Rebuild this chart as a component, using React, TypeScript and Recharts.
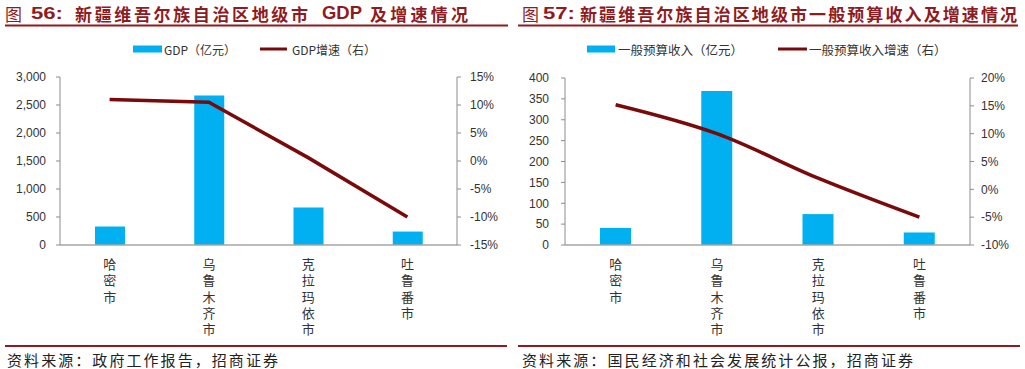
import React from 'react';
import { ComposedChart, Bar, Line, XAxis, YAxis } from 'recharts';

const cities = ['哈密市', '乌鲁木齐市', '克拉玛依市', '吐鲁番市'];
const gdpValues = [330, 2670, 670, 240];
const gdpGrowth = [11.0, 10.5, 0.6, -10.0];
const revenueValues = [41, 369, 74, 30];
const revenueGrowth = [15.2, 10.0, 2.0, -5.0];

const gdpTicks = [0, 500, 1000, 1500, 2000, 2500, 3000];
const gdpGrowthTicks = [-15, -10, -5, 0, 5, 10, 15];
const revenueTicks = [0, 50, 100, 150, 200, 250, 300, 350, 400];
const revenueGrowthTicks = [-10, -5, 0, 5, 10, 15, 20];

const gdpData = cities.map((c, i) => ({ city: c, value: gdpValues[i], growth: gdpGrowth[i] }));
const revData = cities.map((c, i) => ({ city: c, value: revenueValues[i], growth: revenueGrowth[i] }));

const BLUE = '#00B0F0';
const LINE = '#7A0A0A';
const TITLE = '#8E1B1F';
const NUM_FONT = '"Liberation Sans", Arial, "Noto Sans CJK SC", sans-serif';
const CJK_FONT = '"Noto Sans CJK SC", "Liberation Sans", sans-serif';

const fmtComma = (v: number) => v.toLocaleString('en-US');
const fmtPct = (v: number) => `${v}%`;

const VerticalTick = (props: any) => {
  const { x, y, payload } = props;
  return (
    <g>
      <text
        x={x}
        y={y + 12.5}
        textAnchor="start"
        fontSize={13}
        fill="#333"
        fontFamily={CJK_FONT}
        style={{ writingMode: 'vertical-rl', letterSpacing: '3.3px' }}
      >
        {String(payload.value)}
      </text>
    </g>
  );
};

type PanelProps = {
  left: number;
  data: any[];
  leftTicks: number[];
  rightTicks: number[];
  leftWidth: number;
  rightWidth: number;
  top: number;
  barSize: number;
  lineType: 'linear' | 'monotone';
  leftMargin: number;
  rightMargin: number;
};

const Panel = ({ left, data, leftTicks, rightTicks, leftWidth, rightWidth, top, barSize, lineType, leftMargin, rightMargin }: PanelProps) => (
  <div style={{ position: 'absolute', left, top: 0 }}>
    <ComposedChart width={510} height={345} data={data} margin={{ top, right: 0, bottom: 0, left: 0 }}>
      <XAxis
        dataKey="city"
        interval={0}
        tickLine={false}
        tickSize={0}
        tickMargin={0}
        height={100}
        axisLine={{ stroke: '#A6A6A6', strokeWidth: 1.5 }}
        tick={<VerticalTick />}
      />
      <YAxis
        yAxisId="left"
        orientation="left"
        width={leftWidth}
        domain={[leftTicks[0], leftTicks[leftTicks.length - 1]]}
        ticks={leftTicks}
        interval={0}
        tickFormatter={fmtComma}
        tickSize={4}
        tickMargin={leftMargin}
        axisLine={{ stroke: '#8C8C8C' }}
        tickLine={{ stroke: '#8C8C8C' }}
        tick={{ fontSize: 12, fill: '#333', fontFamily: NUM_FONT }}
      />
      <YAxis
        yAxisId="right"
        orientation="right"
        width={rightWidth}
        domain={[rightTicks[0], rightTicks[rightTicks.length - 1]]}
        ticks={rightTicks}
        interval={0}
        tickFormatter={fmtPct}
        tickSize={4}
        tickMargin={rightMargin}
        axisLine={{ stroke: '#8C8C8C' }}
        tickLine={{ stroke: '#8C8C8C' }}
        tick={{ fontSize: 12, fill: '#333', fontFamily: NUM_FONT, textAnchor: 'start' }}
      />
      <Bar yAxisId="left" dataKey="value" fill={BLUE} barSize={barSize} isAnimationActive={false} />
      <Line
        yAxisId="right"
        dataKey="growth"
        type={lineType}
        stroke={LINE}
        strokeWidth={3.5}
        dot={false}
        activeDot={false}
        isAnimationActive={false}
      />
    </ComposedChart>
  </div>
);

export default function App() {
  return (
    <div style={{ position: 'absolute', left: 0, top: 0, width: 1025, height: 369, background: '#fff', overflow: 'hidden' }}>
      <Panel left={0} data={gdpData} leftTicks={gdpTicks} rightTicks={gdpGrowthTicks} leftWidth={60} rightWidth={53} top={77} barSize={30} lineType="linear" leftMargin={10} rightMargin={9} />
      <Panel left={515} data={revData} leftTicks={revenueTicks} rightTicks={revenueGrowthTicks} leftWidth={50} rightWidth={55} top={78} barSize={31} lineType="monotone" leftMargin={12} rightMargin={7} />
      <svg width={1025} height={369} style={{ position: 'absolute', left: 0, top: 0, pointerEvents: 'none' }}>
        {/* Titles */}
        <text y={12.5} dominantBaseline="central" fill={TITLE} fontSize={17}>
          <tspan x={5} fontFamily={CJK_FONT}>图</tspan>
          <tspan x={31} fontFamily={NUM_FONT} fontWeight="bold" textLength={32} lengthAdjust="spacingAndGlyphs">56:</tspan>
          <tspan x={75} fontFamily={CJK_FONT} fontWeight={700} textLength={233} lengthAdjust="spacing">新疆维吾尔族自治区地级市</tspan>
          <tspan x={322} fontFamily={NUM_FONT} fontWeight="bold" fontSize={18} textLength={40} lengthAdjust="spacingAndGlyphs">GDP</tspan>
          <tspan x={370} fontFamily={CJK_FONT} fontWeight={700} textLength={98} lengthAdjust="spacing">及增速情况</tspan>
        </text>
        <text y={12.5} dominantBaseline="central" fill={TITLE} fontSize={17}>
          <tspan x={522} fontFamily={CJK_FONT}>图</tspan>
          <tspan x={543} fontFamily={NUM_FONT} fontWeight="bold" textLength={32} lengthAdjust="spacingAndGlyphs">57:</tspan>
          <tspan x={580} fontFamily={CJK_FONT} fontWeight={700} textLength={437} lengthAdjust="spacing">新疆维吾尔族自治区地级市一般预算收入及增速情况</tspan>
        </text>
        <rect x={5} y={24.5} width={503} height={2} fill={TITLE} />
        <rect x={518} y={24.5} width={500} height={2} fill={TITLE} />

        {/* Legends */}
        <rect x={133} y={45.5} width={29} height={7} fill={BLUE} />
        <text x={164} y={49} dominantBaseline="central" fontSize={12} fill="#333" fontFamily={CJK_FONT}>GDP（亿元）</text>
        <rect x={260} y={47.5} width={27} height={3} fill={LINE} />
        <text x={292} y={49} dominantBaseline="central" fontSize={12} fill="#333" fontFamily={CJK_FONT}>GDP增速（右）</text>

        <rect x={587} y={45.5} width={28} height={7} fill={BLUE} />
        <text x={618} y={49} dominantBaseline="central" fontSize={12.5} fill="#333" fontFamily={CJK_FONT}>一般预算收入（亿元）</text>
        <rect x={778} y={47.5} width={29} height={3} fill={LINE} />
        <text x={809} y={49} dominantBaseline="central" fontSize={12.5} fill="#333" fontFamily={CJK_FONT}>一般预算收入增速（右）</text>

        {/* Source lines */}
        <rect x={5} y={345} width={502} height={2} fill={TITLE} />
        <rect x={518} y={345} width={502} height={2} fill={TITLE} />
        <text x={7} y={359} dominantBaseline="central" fontSize={15} fill="#222" fontFamily={CJK_FONT} textLength={271} lengthAdjust="spacing">资料来源：政府工作报告，招商证券</text>
        <text x={522} y={359} dominantBaseline="central" fontSize={15} fill="#222" fontFamily={CJK_FONT} textLength={391} lengthAdjust="spacing">资料来源：国民经济和社会发展统计公报，招商证券</text>
      </svg>
    </div>
  );
}
